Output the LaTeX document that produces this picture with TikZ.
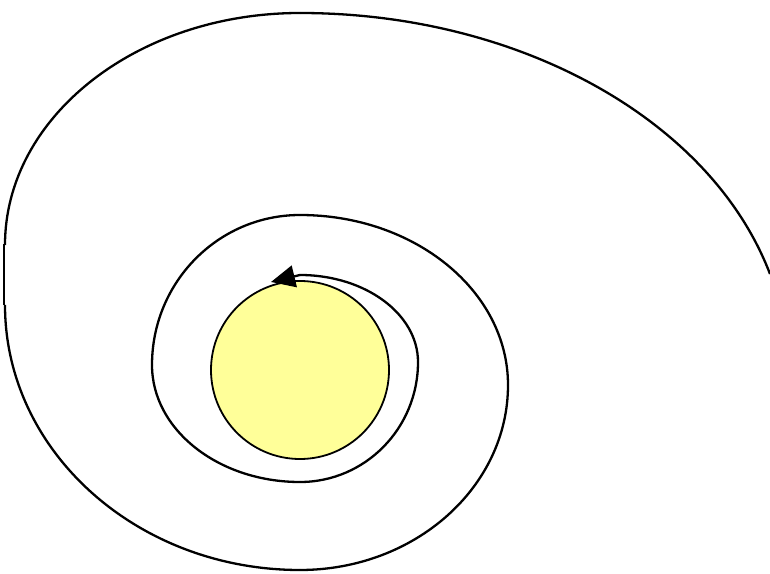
\documentclass[tikz,border=0pt]{standalone}
\usetikzlibrary{arrows.meta}
\definecolor{sunyellow}{RGB}{255,255,153}
\tikzset{spiral/.style={line width=2.3pt, black}}
\begin{document}
\begin{tikzpicture}[x=1pt,y=1pt]
\useasboundingbox (0,0) rectangle (770,573);
\clip (0,0) rectangle (770,573);
\node[circle, draw=black, line width=1.8pt, fill=sunyellow, minimum size=178pt, inner sep=0pt] (sun) at (300,203) {};
% outer turn
\draw[spiral] (300,203) ++(15.6:488 and 357) arc[start angle=15.6, end angle=90, x radius=488, y radius=357];
\draw[spiral] (300,560) arc[start angle=90, end angle=180, x radius=295, y radius=232];
\draw[spiral] (4,329) -- (4,268);
\draw[spiral] (5,268) arc[start angle=180, end angle=270, x radius=295, y radius=265];
% middle turn
\draw[spiral] (300,3) arc[start angle=270, end angle=360, x radius=208, y radius=185];
\draw[spiral] (508,188) arc[start angle=0, end angle=90, x radius=208, y radius=170];
\draw[spiral] (300,358) arc[start angle=90, end angle=180, x radius=148, y radius=150];
\draw[spiral] (152,208) arc[start angle=180, end angle=270, x radius=148, y radius=117];
% inner turn
\draw[spiral] (300,91) arc[start angle=270, end angle=360, x radius=118, y radius=120];
\draw[spiral] (418,211) arc[start angle=0, end angle=90, x radius=118, y radius=87] coordinate (tail);
\coordinate (tip) at (271,291);
\draw[spiral, -{Triangle[length=24pt,width=22pt]}] (tail) -- (tip);
\end{tikzpicture}
\end{document}
